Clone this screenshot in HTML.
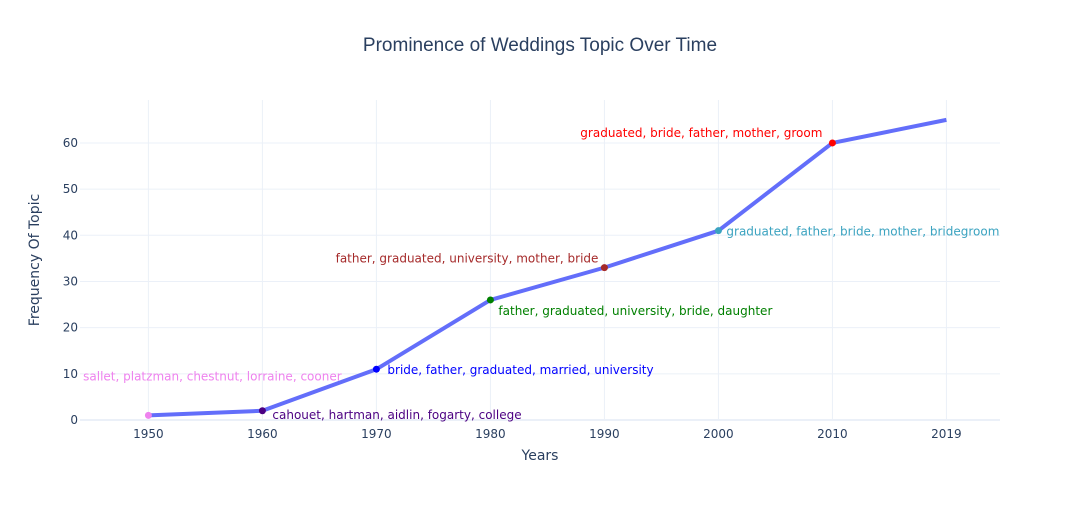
<!DOCTYPE html>
<html><head><meta charset="utf-8">
<style>
body{margin:0;background:#fff;font-family:"Liberation Sans",Arial,sans-serif;}
svg text{font-family:"DejaVu Sans","Liberation Sans",sans-serif;}
</style></head>
<body>
<svg id="chart" width="1080" height="500">
<text x="540" y="51" text-anchor="middle" font-size="19" fill="#2a3f5f" style="font-family:'Liberation Sans',sans-serif">Prominence of Weddings Topic Over Time</text>
<g id="grid"></g>
<g id="xticks"></g>
<g id="yticks"></g>
<g id="series"></g>
<text x="540" y="460" text-anchor="middle" font-size="14" fill="#2a3f5f">Years</text>
<text transform="translate(39,260) rotate(-90)" text-anchor="middle" font-size="14" fill="#2a3f5f">Frequency Of Topic</text>
</svg>
<script>
const years = [1950,1960,1970,1980,1990,2000,2010,2019];
const values = [1,2,11,26,33,41,60,65];
const labels = ["sallet, platzman, chestnut, lorraine, cooner","cahouet, hartman, aidlin, fogarty, college","bride, father, graduated, married, university","father, graduated, university, bride, daughter","father, graduated, university, mother, bride","graduated, father, bride, mother, bridegroom","graduated, bride, father, mother, groom",""];
const colors = ["#ee82ee","#4b0082","#0000ff","#008000","#a52a2a","#3ba3c0","#ff0000",null];
const yTickVals = [0,10,20,30,40,50,60];

const X0=80,X1=1000,Y0=420,Y1=100;
const iMin=-0.6,iMax=7.47,yMin=0,yMax=69.3;
const xs=y=>{const i=years.indexOf(y);return X0+(i-iMin)/(iMax-iMin)*(X1-X0);};
const ys=v=>Y0-(v-yMin)/(yMax-yMin)*(Y0-Y1);
const NS="http://www.w3.org/2000/svg";
function mk(tag,attrs,parent,txt){const e=document.createElementNS(NS,tag);for(const k in attrs)e.setAttribute(k,attrs[k]);if(txt!==undefined)e.textContent=txt;parent.appendChild(e);return e;}
const grid=document.getElementById('grid'),xt=document.getElementById('xticks'),yt=document.getElementById('yticks'),ser=document.getElementById('series');
years.forEach(v=>{
  const g=mk('line',{x1:xs(v),x2:xs(v),y1:Y1,y2:Y0,stroke:'#ebf0f8','stroke-width':1},grid);
  
  
  const t=mk('text',{x:xs(v),y:Y0+18,'text-anchor':'middle','font-size':12,fill:'#2a3f5f'},xt,String(v));
  
  
});
yTickVals.forEach(v=>{
  const g=mk('line',{x1:X0,x2:X1,y1:ys(v),y2:ys(v),stroke:'#ebf0f8','stroke-width':v===0?2:1},grid);
  
  
  const t=mk('text',{x:X0-2,y:ys(v)+4,'text-anchor':'end','font-size':12,fill:'#2a3f5f'},yt,String(v));
  
  
});
const pts=years.map((y,i)=>xs(y)+','+ys(values[i])).join(' ');
const line=mk('polyline',{points:pts,fill:'none',stroke:'#636efa','stroke-width':4,'stroke-linejoin':'round'},ser);


const offs=[[64,-39,'middle'],[10,4,'start'],[11,1,'start'],[8,11,'start'],[-6,-9,'end'],[8,1,'start'],[-10,-10,'end']];
years.forEach((y,i)=>{
  if(!colors[i])return;
  const cx=xs(y),cy=ys(values[i]);
  const c=mk('circle',{cx:cx,cy:cy,r:3.5,fill:colors[i]},ser);
  
  
  const o=offs[i];
  const t=mk('text',{x:cx+o[0],y:cy+o[1]+4,'text-anchor':o[2],'font-size':12,fill:colors[i]},ser,labels[i]);
  
  
});
</script>
</body></html>
